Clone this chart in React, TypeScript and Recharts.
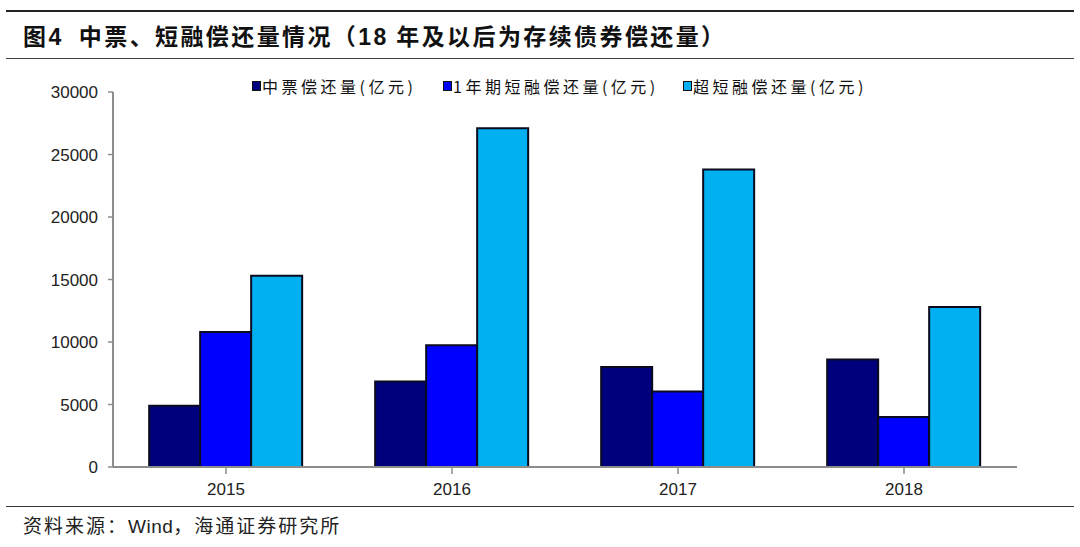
import React from "react";
import { BarChart, Bar, XAxis, YAxis } from "recharts";

const years = ["2015", "2016", "2017", "2018"];
const mtn = [4900, 6850, 8000, 8600];
const cp1y = [10800, 9750, 6050, 4000];
const scp = [15300, 27100, 23800, 12800];
const yTicks = [0, 5000, 10000, 15000, 20000, 25000, 30000];
const seriesKeys = ["mtn", "cp1y", "scp"];
const seriesNames = ["中票偿还量(亿元)", "1年期短融偿还量(亿元)", "超短融偿还量(亿元)"];
const colors = ["#00007c", "#0000ff", "#00b0f0"];
const legendLeft = [252, 443, 683];

const data = years.map((y, i) => ({ year: y, mtn: mtn[i], cp1y: cp1y[i], scp: scp[i] }));

const numFont = "'Liberation Sans', Arial, sans-serif";
const cjkFont = "'Noto Sans CJK SC', sans-serif";

export default function App() {
  return (
    <div style={{ position: "absolute", left: 0, top: 0, width: 1080, height: 547, background: "#fff", overflow: "hidden" }}>
      <div style={{ position: "absolute", left: 6, right: 6, top: 10, borderTop: "2px solid #222" }} />
      <div style={{ position: "absolute", left: 23, top: 20, fontFamily: cjkFont, fontWeight: 700, fontSize: 23, lineHeight: "30px", color: "#111", whiteSpace: "nowrap", letterSpacing: 2.4 }}>
        图<span style={{ fontFamily: numFont }}>4</span>&nbsp;&nbsp;中票、短融偿还量情况（<span style={{ fontFamily: numFont }}>18</span> 年及以后为存续债券偿还量）
      </div>
      <div style={{ position: "absolute", left: 6, right: 6, top: 58, borderTop: "1.5px solid #444" }} />
      {seriesNames.map((n, i) => (
        <div key={n} style={{ position: "absolute", left: legendLeft[i], top: 75, display: "flex", alignItems: "center", fontFamily: cjkFont, fontSize: 16, lineHeight: "22px", color: "#111", whiteSpace: "nowrap" }}>
          <span style={{ display: "inline-block", width: 7, height: 8, background: colors[i], border: "1.5px solid #111", marginRight: 1 }} />
          <span style={{ letterSpacing: 3.5 }}>{n}</span>
        </div>
      ))}
      <BarChart width={1080} height={547} data={data} margin={{ top: 92, right: 63, bottom: 50, left: 0 }} barCategoryGap="16%" barGap={0}>
        <XAxis dataKey="year" height={30} tickSize={7} tickMargin={9} axisLine={{ stroke: "#8c8c8c", strokeWidth: 2 }} tickLine={{ stroke: "#8c8c8c", strokeWidth: 1.5 }} tick={{ fontFamily: numFont, fontSize: 17, fill: "#222" }} />
        <YAxis width={113} domain={[0, 30000]} ticks={yTicks} interval={0} tickSize={5} tickMargin={10} axisLine={{ stroke: "#8c8c8c", strokeWidth: 2 }} tickLine={{ stroke: "#8c8c8c", strokeWidth: 1.5 }} tick={{ fontFamily: numFont, fontSize: 17, fill: "#222" }} />
        {seriesKeys.map((k, i) => (
          <Bar key={k} dataKey={k} name={seriesNames[i]} fill={colors[i]} stroke="#0a0a20" strokeWidth={2} isAnimationActive={false} />
        ))}
      </BarChart>
      <div style={{ position: "absolute", left: 6, right: 6, top: 506, borderTop: "1.5px solid #333" }} />
      <div style={{ position: "absolute", left: 23, top: 511, fontFamily: cjkFont, fontSize: 19, lineHeight: "27px", color: "#222", whiteSpace: "nowrap", letterSpacing: 2 }}>
        资料来源：<span style={{ fontFamily: numFont, letterSpacing: 0.5 }}>Wind</span>，海通证券研究所
      </div>
    </div>
  );
}
